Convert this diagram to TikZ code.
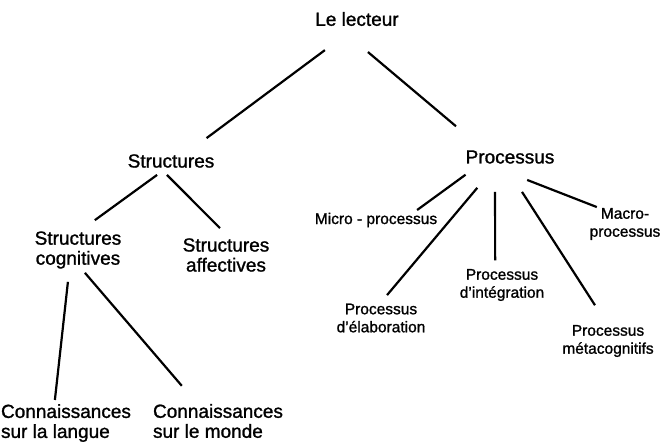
\documentclass[tikz,border=0pt]{standalone}
\usepackage{fontspec}
\setmainfont[FakeBold=1.2]{Liberation Sans}
\usepackage{tikz}

\begin{document}
\begin{tikzpicture}[x=1pt,y=-1pt]
\tikzstyle{lbl}=[inner sep=1pt,outer sep=0pt,align=center];
\tikzstyle{bigtxt}=[lbl,font=\fontsize{19}{20}\selectfont];
\tikzstyle{smalltxt}=[lbl,font=\fontsize{15.5}{18}\selectfont];
\tikzstyle{link}=[line width=2.2pt];

\useasboundingbox (0,0) rectangle (663,442);

% reader and the two branches
\node[bigtxt] (lect) at (357,19) {Le lecteur};
\node[bigtxt] (struct) at (171,161) {Structures};
\node[bigtxt] (proc) at (510,157) {Processus};

% structures
\node[bigtxt] (cog) at (78,250) {Structures\\cognitives};
\node[bigtxt] (aff) at (226,255) {Structures\\affectives};
\node[bigtxt,align=left] (langue) at (66,423) {Connaissances\\sur la langue};
\node[bigtxt,align=left] (monde) at (218,421) {Connaissances\\sur le monde};

% processes
\node[smalltxt] (micro) at (376,220) {Micro - processus};
\node[smalltxt] (elab) at (381,318) {Processus\\d'élaboration};
\node[smalltxt] (integ) at (502,285) {Processus\\d'intégration};
\node[smalltxt] (meta) at (608,341) {Processus\\métacognitifs};
\node[smalltxt] (macro) at (625,224) {Macro-\\processus};

\draw[link,shorten <=38.8pt,shorten >=25.4pt] (lect.263) -- (struct.27);
\draw[link,shorten <=38.9pt,shorten >=35.8pt] (lect.203) -- (proc.164);

\draw[link,shorten <=10.5pt,shorten >=17.4pt] (struct.235) -- (cog.82);
\draw[link,shorten <=8.8pt,shorten >=13pt] (struct.217) -- (aff.80);
\draw[link,shorten <=12.3pt,shorten >=3.2pt] (cog.246) -- (langue.120);
\draw[link,shorten <=4.2pt,shorten >=22.7pt] (cog.282) -- (monde.140);

\draw[link,shorten <=17.1pt,shorten >=3pt] (proc.194) -- (micro.12);
\draw[link,shorten <=30.3pt,shorten >=9.8pt] (proc.210) -- (elab.91);
\draw[link,shorten <=27.2pt,shorten >=7.8pt] (proc.207.5) -- (integ.112);
\draw[link,shorten <=32.4pt,shorten >=22.4pt] (proc.234) -- (meta.93);
\draw[link,shorten <=42.2pt] (proc.199) -- (macro.149);
\end{tikzpicture}
\end{document}
